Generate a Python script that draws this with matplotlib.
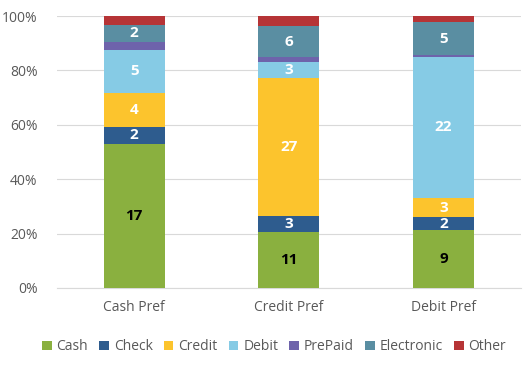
import matplotlib
matplotlib.use("Agg")
import matplotlib.pyplot as plt
import numpy as np

categories = ["Cash Pref", "Credit Pref", "Debit Pref"]
series_names = ["Cash", "Check", "Credit", "Debit", "PrePaid", "Electronic", "Other"]
cash = [17, 11, 9]
check = [2, 3, 2]
credit = [4, 27, 3]
debit = [5, 3, 22]
prepaid = [1, 1, 0.3]
electronic = [2, 6, 5]
other = [1, 2, 1]
labeled = ["Cash", "Check", "Credit", "Debit", "Electronic"]

colors = ["#8AB03F", "#2E5C8E", "#FCC42D", "#86CBE5", "#6E63AB", "#5A8EA2", "#B63436"]
label_colors = ["black", "white", "white", "white", "white", "white", "white"]

plt.rcParams['font.family'] = ['Open Sans', 'DejaVu Sans']

data = np.array([cash, check, credit, debit, prepaid, electronic, other], dtype=float)
totals = data.sum(axis=0)
pct = data / totals * 100

fig = plt.figure(figsize=(5.27, 3.65), dpi=100)
ax = fig.add_axes([0.108, 0.211, 0.880, 0.745])
x = np.arange(len(categories))
bottom = np.zeros(len(categories))
for i, name in enumerate(series_names):
    ax.bar(x, pct[i], 0.395, bottom=bottom, color=colors[i], label=name, zorder=3)
    if name in labeled:
        for j in range(len(categories)):
            ax.text(x[j], bottom[j] + pct[i][j] / 2, f"{data[i][j]:g}", ha="center", va="center",
                    color=label_colors[i], fontsize=11, fontweight="bold", zorder=4)
    bottom += pct[i]

ax.set_xlim(-0.5, 2.5)
ax.set_ylim(0, 100)
ax.set_yticks(np.arange(0, 101, 20))
ax.set_yticklabels([f"{v}%" for v in range(0, 101, 20)])
ax.set_xticks(x)
ax.set_xticklabels(categories)
ax.tick_params(axis="both", colors="#595959", labelsize=10, length=0)
ax.tick_params(axis="y", pad=14)
ax.tick_params(axis="x", pad=9)
ax.yaxis.grid(True, color="#D9D9D9", linewidth=0.8, zorder=0)
for s in ["top", "right", "left"]:
    ax.spines[s].set_visible(False)
ax.spines["bottom"].set_color("#D9D9D9")

fig.legend(loc="center", bbox_to_anchor=(0.52, 0.05), ncol=7, frameon=False,
           fontsize=10, labelcolor="#595959", handlelength=0.7, handleheight=0.7,
           handletextpad=0.35, columnspacing=0.8)
fig.savefig("out.png", dpi=100)
